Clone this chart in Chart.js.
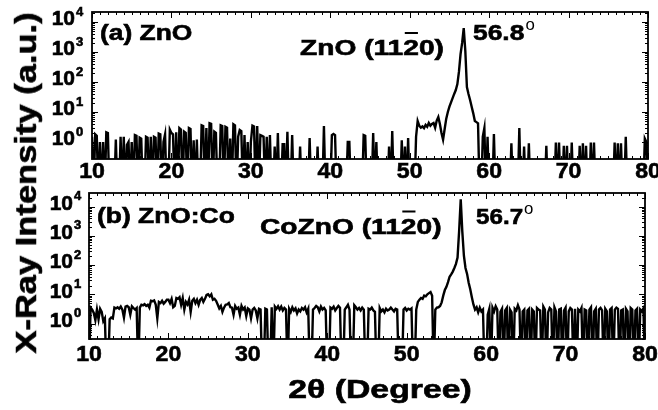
<!DOCTYPE html>
<html><head><meta charset="utf-8">
<script src="https://cdn.jsdelivr.net/npm/chart.js@4/dist/chart.umd.min.js"></script>
<style>
html,body{margin:0;padding:0;background:#fff;width:658px;height:410px;overflow:hidden}
#wrap{position:relative;width:658px;height:410px}
canvas{position:absolute;left:0}
#c1{top:0}#c2{top:190px}
.ttl{position:absolute;font:bold 30px "Liberation Sans",Arial,sans-serif;line-height:1;white-space:nowrap;color:#000;-webkit-text-stroke:0.6px #000}
#ytitle{left:26px;top:183px;transform:translate(-50%,-50%) rotate(-90deg) scaleX(1.15)}
#xtitle{left:380px;top:389px;font-size:26px;transform:translate(-50%,-50%) scaleX(1.3)}
</style></head><body>
<div id="wrap">
<canvas id="c1" width="658" height="190"></canvas>
<canvas id="c2" width="658" height="220"></canvas>
<div class="ttl" id="ytitle">X-Ray Intensity (a.u.)</div>
<div class="ttl" id="xtitle">2θ (Degree)</div>
</div>
<script>
// 2-theta sampling grid (degrees): start and step
const thetaStart = 10, thetaStep = 0.2;
const xTickValues = [10, 20, 30, 40, 50, 60, 70, 80];
const xTickLabels = ['10', '20', '30', '40', '50', '60', '70', '80'];
const yTickExponents = [0, 1, 2, 3, 4];

// (a) ZnO intensity, 0.2 deg steps from 10 to 80 (0 = below detection floor)
const znoCounts = [
1.5,0,1.8,1.6,0, 1.0,0,1.0,0,2.1, 2.0,0,0,0,0, 1.2,0,0,1.5,0, 1.5,0,0.8,1.0,0,
1.0,0,1.7,1.6,0, 1.4,1.3,0,0,1.5, 1.4,0,1.5,0,1.5, 1.4,0,1.9,1.8,0, 1.0,1.8,0,0,2.6,
2.0,1.8,0,2.1,0, 2.9,2.6,0,2.2,2.0, 0,2.9,2.7,0,1.15, 0,1.2,0,0,3.6, 3.4,0,2.9,0,4.2,
4.0,0,2.2,2.0,0, 0,3.6,3.4,0,3.2, 3.0,0,1.3,0,3.9, 3.6,0,1.5,2.5,2.3, 0,1.7,0,1.0,0,
1.0,3.5,3.3,0,3.4, 0,1.7,1.6,1.5,0, 1.5,0,1.7,0,0, 0.7,0,2.0,0,0, 0.85,0.85,0,2.2,0,
0,1.7,0,0,0, 0,0.7,0,0,0, 0,0,1.35,0,0, 0,0,0.7,0,0, 0,3.4,0,0,0,
0,1.7,1.85,1.7,0, 0,0,0,0,0, 0,1.0,1.0,0,0, 0,0,0,0,0, 0,1.7,1.6,0,0,
0,0,2.0,0,1.0, 0,0,0,0,0, 0,0,0.7,0,2.3, 0,0,0,0,0, 1.15,0,0.7,0,1.35,
0,0,0,0,1.5, 5,3.5,3.0,3.3,2.9, 3.7,3.2,4.3,3.5,4.0, 4.3,3.0,5.2,6.8,4.0, 2.0,1.2,2.7,6,10,
15,21,29,40,54, 85,220,850,2000,6300, 1100,68,40,25,15, 9,5,4.6,4.2,0, 0,1.5,2.9,0,1.5,
0,0,0,1.85,0, 0,0,0,0,0, 0,0,0,0,0.9, 0,0,0,0,2.9, 0,0,0.7,0,0,
0.9,0,0,0,0, 0,0,0,0,0, 0,0.75,0,0,0, 0,0,0.95,0,0.95, 0,0,0.75,0,0.75,
0,0,0.95,0,0, 0,0,0.75,0,0.9, 0,0.75,0,0,0.95, 0,0.95,0,0,0, 0,0,0,0,0,
0,0,0,0,0.95, 0,0.9,0,0.9,0, 0,1.5,0,0,0, 0,0,0,0,0, 0,0,0,1.3,1.0,
0
];

// (b) ZnO:Co intensity, 0.2 deg steps from 10 to 80 (0 = below detection floor)
const coznoCounts = [
0,3.5,3.0,2.3,1.3, 3.0,1.4,3.2,2.5,1.2, 1.5,0,0,1.4,1.6, 1.5,3.5,3.3,3.6,3.2, 3.8,3.0,1.6,3.8,4.0,
3.6,2.0,3.9,3.4,3.0, 3.4,0,3.5,4.4,4.2, 4.6,4.0,4.4,3.5,6.0, 5.8,6.2,4.5,1.5,5.5, 5.0,6.0,4.8,5.5,6.5,
6.5,5.0,7.0,3.6,4.0, 7.5,7.0,8.0,4.4,7.5, 3.0,5.5,4.5,6.5,2.5, 6.0,7.0,5.0,6.5,4.4, 6.5,7.5,5.5,7.0,9.5,
10,8.5,10,6.5,7.0, 6.0,4.5,3.3,4.0,2.5, 3.5,4.4,4.5,5.0,3.6, 3.5,2.0,4.0,3.2,3.5, 2.0,4.0,3.0,3.5,1.8,
3.3,3.0,1.5,3.0,3.4, 2.8,1.5,3.2,3.0,0, 0,3.2,3.0,0,0, 3.6,0,3.8,3.2,3.9, 3.0,3.8,2.8,3.4,3.0,
0,3.2,2.5,3.6,2.8, 3.3,2.2,3.0,2.6,3.4, 3.0,3.6,2.4,3.2,0, 0,3.0,3.4,4.0,3.6, 2.6,3.8,3.0,3.4,2.8,
0,0,3.5,3.2,3.8, 2.8,3.4,4.0,3.5,0, 0,3.0,3.6,4.4,3.0, 0,0,4.2,3.6,3.0, 3.4,2.8,3.5,3.0,0,
0,3.2,3.0,3.5,2.8, 2.5,0,0,3.4,2.6, 3.0,2.4,3.2,2.8,3.0, 3.5,3.0,2.6,3.2,3.0, 0,0,0,3.0,3.4,
2.8,3.2,3.0,3.3,0, 0,3.0,5.5,6.5,7.5, 7.0,9.0,8.5,10,11, 12,9,0,3.0,3.5, 3.6,4.0,5.3,9,14,
18,26,40,48,60, 80,110,180,1500,18000, 1400,210,80,50,25, 15,8,4.5,3.0,3.6, 2.4,3.5,2.6,3.0,0,
0,2.0,3.2,0,3.5, 2.6,3.9,3.0,0,2.5, 3.2,0,2.8,3.4,0, 3.0,2.4,0,3.2,2.8, 4.2,3.0,0,2.6,3.0,
0,2.8,3.2,0,3.0, 2.6,0,3.4,3.0,2.8, 0,3.8,3.0,0,2.4, 3.4,3.0,0,3.6,2.6, 0,3.0,3.2,0,2.8,
3.5,0,2.6,3.4,3.0, 0,3.2,0,3.0,2.6, 3.4,0,3.0,2.8,0, 3.0,3.6,0,2.6,3.2, 0,3.0,3.4,2.8,0,
3.2,2.6,0,3.0,3.4, 0,3.0,3.5,3.2,0, 2.8,3.0,0,3.2,2.6, 0,3.4,3.0,0,2.8, 3.2,0,3.0,2.6,3.3,
0
];

const FLOOR = 0.02; // values below the plotted range drop to the axis

function toPoints(arr) {
  return arr.map((v, i) => ({ x: thetaStart + i * thetaStep, y: v > 0 ? v : FLOOR }));
}

function txt(ctx, s, x, y, size, sx, align, weight) {
  ctx.save();
  ctx.font = (weight || 'bold') + ' ' + size + 'px "Liberation Sans", Arial, sans-serif';
  ctx.textBaseline = 'middle';
  ctx.textAlign = align || 'left';
  ctx.fillStyle = '#000';
  ctx.strokeStyle = '#000';
  ctx.translate(x, y);
  ctx.scale(sx, 1);
  ctx.fillText(s, 0, 0);
  if (!weight) { ctx.lineWidth = 0.6; ctx.strokeText(s, 0, 0); }
  const w = ctx.measureText(s).width * sx;
  ctx.restore();
  return w;
}

function millerLabel(ctx, prefix, x, y, size, sx) {
  let cx = x;
  cx += txt(ctx, prefix + ' (11', cx, y, size, sx);
  const w2 = txt(ctx, '2', cx, y, size, sx);
  ctx.save();
  ctx.strokeStyle = '#000'; ctx.lineWidth = 2;
  ctx.beginPath();
  ctx.moveTo(cx + 1.5, y - 16); ctx.lineTo(cx + w2 - 1, y - 16);
  ctx.stroke();
  ctx.restore();
  cx += w2;
  txt(ctx, '0)', cx, y, size, sx);
}

function degLabel(ctx, s, x, y, size, sx) {
  const w = txt(ctx, s, x, y, size, sx);
  txt(ctx, 'o', x + w + 1, y - 8, 16, 1.05, 'left', 'normal');
}

const panelPlugin = {
  id: 'panel',
  afterDraw(chart, args, opts) {
    const { ctx, chartArea: a } = chart;
    const xs = chart.scales.x, ys = chart.scales.y;
    ctx.save();
    ctx.strokeStyle = '#000';
    ctx.lineWidth = 1;
    ctx.beginPath();
    for (let v = 10; v <= 80; v += 1) {
      const px = Math.round(xs.getPixelForValue(v)) + 0.5;
      const len = v % 10 === 0 ? 6 : 3;
      ctx.moveTo(px, a.bottom); ctx.lineTo(px, a.bottom - len);
      ctx.moveTo(px, a.top); ctx.lineTo(px, a.top + len);
    }
    for (let e = -1; e <= 4; e++) {
      for (let m = 1; m <= 9; m++) {
        const v = m * Math.pow(10, e);
        if (v < ys.min || v > ys.max) continue;
        const py = Math.round(ys.getPixelForValue(v)) + 0.5;
        const len = m === 1 ? 6 : 3;
        ctx.moveTo(a.left, py); ctx.lineTo(a.left + len, py);
        ctx.moveTo(a.right, py); ctx.lineTo(a.right - len, py);
      }
    }
    ctx.stroke();
    ctx.lineWidth = 1.8;
    ctx.strokeRect(a.left, a.top, a.right - a.left, a.bottom - a.top);
    ctx.restore();

    xTickValues.forEach((v, i) => {
      txt(ctx, xTickLabels[i], xs.getPixelForValue(v), a.bottom + opts.xLabelGap, 22, 1.05, 'center');
    });
    yTickExponents.forEach(e => {
      const py = ys.getPixelForValue(Math.pow(10, e));
      txt(ctx, '10', a.left - opts.yLabelGap, py - 2.5, 21, 1.0, 'right');
      txt(ctx, String(e), a.left - opts.yLabelGap + 1, py - 10, 13, 1.0, 'left');
    });

    txt(ctx, opts.sample, a.left + 8, opts.sampleY, 22, 1.2);
    millerLabel(ctx, opts.phase, opts.phaseX, opts.phaseY, 22, 1.28);
    degLabel(ctx, opts.peak, opts.peakX, opts.peakY, 22, opts.peakSx);
  }
};

function makeChart(id, arr, yMin, yMax, pad, pluginOpts) {
  return new Chart(document.getElementById(id), {
    type: 'line',
    data: {
      datasets: [{
        data: toPoints(arr),
        borderColor: '#000',
        borderWidth: 2.4,
        pointRadius: 0,
        tension: 0,
        fill: false,
        clip: 0
      }]
    },
    options: {
      responsive: false,
      animation: false,
      events: [],
      layout: { padding: pad },
      scales: {
        x: { type: 'linear', min: 10, max: 80, display: false },
        y: { type: 'logarithmic', min: yMin, max: yMax, display: false }
      },
      plugins: {
        legend: { display: false },
        tooltip: { enabled: false },
        panel: pluginOpts
      }
    },
    plugins: [panelPlugin]
  });
}

makeChart('c1', znoCounts, 0.271, 21544,
  { left: 92, right: 10, top: 12, bottom: 31 },
  { xLabelGap: 13, yLabelGap: 17, sample: '(a) ZnO', sampleY: 33.5,
    phase: 'ZnO', phaseX: 300, phaseY: 49, peak: '56.8', peakX: 473, peakY: 34, peakSx: 1.2 });

makeChart('c2', coznoCounts, 0.295, 29500,
  { left: 89, right: 13, top: 3, bottom: 71 },
  { xLabelGap: 16, yLabelGap: 16, sample: '(b) ZnO:Co', sampleY: 27,
    phase: 'CoZnO', phaseX: 260, phaseY: 37.5, peak: '56.7', peakX: 476, peakY: 27.5, peakSx: 1.1 });
</script>
</body></html>
